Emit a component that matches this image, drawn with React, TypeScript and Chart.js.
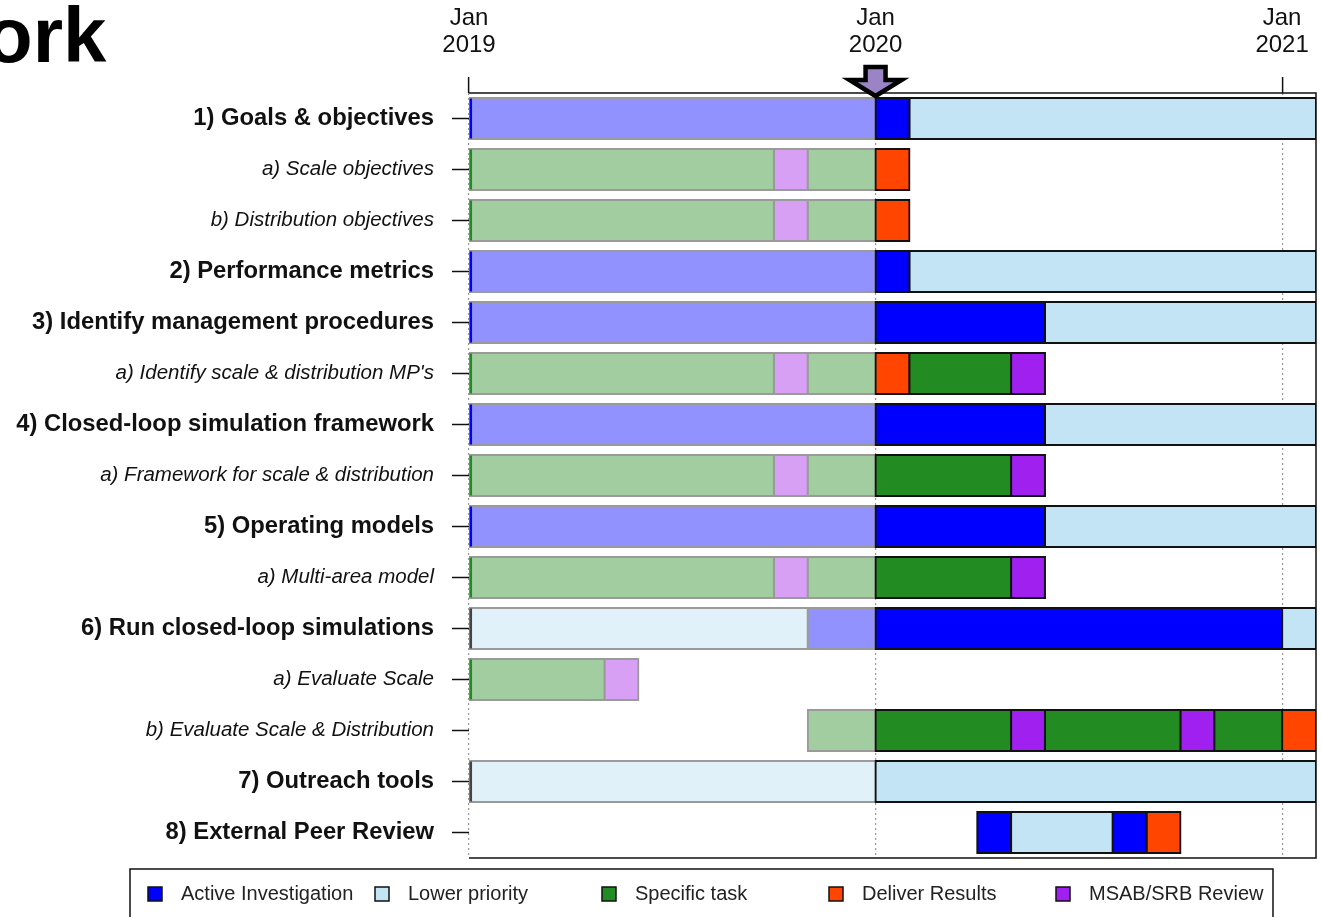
import React, { useEffect, useRef } from "react";
import { Chart, registerables } from "chart.js";

Chart.register(...registerables);

const FONT = "'Liberation Sans', Arial, Helvetica, sans-serif";

// Row labels (top to bottom) and whether the row is a main (bold) item
const rowLabels = [
  "1) Goals & objectives",
  "a) Scale objectives",
  "b) Distribution objectives",
  "2) Performance metrics",
  "3) Identify management procedures",
  "a) Identify scale & distribution MP's",
  "4) Closed-loop simulation framework",
  "a) Framework for scale & distribution",
  "5) Operating models",
  "a) Multi-area model",
  "6) Run closed-loop simulations",
  "a) Evaluate Scale",
  "b) Evaluate Scale & Distribution",
  "7) Outreach tools",
  "8) External Peer Review",
];
const mainRows = [true, false, false, true, true, false, true, false, true, false, true, false, false, true, true];

// Time axis in months since Jan 2019
const tickMonths = [0, 12, 24];
const tickLabels = [["Jan", "2019"], ["Jan", "2020"], ["Jan", "2021"]];
const axisMin = 0;
const axisMax = 25;
const todayMonth = 12;

// Segments: [row, startMonth, endMonth]
const pastActive = [[0, 0, 12], [3, 0, 12], [4, 0, 12], [6, 0, 12], [8, 0, 12], [10, 10, 12]];
const pastTask = [
  [1, 0, 9], [1, 10, 12], [2, 0, 9], [2, 10, 12], [5, 0, 9], [5, 10, 12],
  [7, 0, 9], [7, 10, 12], [9, 0, 9], [9, 10, 12], [11, 0, 4], [12, 10, 12],
];
const pastReview = [[1, 9, 10], [2, 9, 10], [5, 9, 10], [7, 9, 10], [9, 9, 10], [11, 4, 5]];
const pastLower = [[10, 0, 10], [13, 0, 12]];
const activeInvestigation = [
  [0, 12, 13], [3, 12, 13], [4, 12, 17], [6, 12, 17], [8, 12, 17], [10, 12, 24], [14, 15, 16], [14, 19, 20],
];
const lowerPriority = [
  [0, 13, 25], [3, 13, 25], [4, 17, 25], [6, 17, 25], [8, 17, 25], [10, 24, 25], [13, 12, 25], [14, 16, 19],
];
const specificTask = [[5, 13, 16], [7, 12, 16], [9, 12, 16], [12, 12, 16], [12, 17, 21], [12, 22, 24]];
const deliverResults = [[1, 12, 13], [2, 12, 13], [5, 12, 13], [12, 24, 25], [14, 20, 21]];
const msabReview = [[5, 16, 17], [7, 16, 17], [9, 16, 17], [12, 16, 17], [12, 21, 22]];
const startMarkBlue = [0, 3, 4, 6, 8];
const startMarkGreen = [1, 2, 5, 7, 9, 11];
const startMarkGrey = [10, 13];

const legendNames = ["Active Investigation", "Lower priority", "Specific task", "Deliver Results", "MSAB/SRB Review"];
const legendColors = ["#0000ff", "#c2e4f4", "#228b22", "#ff4500", "#a020f0"];

const toData = (segs: number[][]) => segs.map(([r, s, e]) => ({ y: rowLabels[r], x: [s, e] }));
const markData = (rows: number[]) => rows.map((r) => ({ y: rowLabels[r], x: [0, 0.09] }));

export default function App() {
  const ref = useRef<HTMLCanvasElement | null>(null);

  useEffect(() => {
    const canvas = ref.current;
    if (!canvas) return;

    const seg = (label: string, segs: number[][], bg: string, border: string, order: number) => ({
      label,
      data: toData(segs),
      backgroundColor: bg,
      borderColor: border,
      borderWidth: 2,
      borderSkipped: false,
      inflateAmount: 1,
      grouped: false,
      barThickness: 41,
      order,
    });
    const mark = (rows: number[], color: string) => ({
      label: "mark",
      data: markData(rows),
      backgroundColor: color,
      borderWidth: 0,
      inflateAmount: 0,
      grouped: false,
      barThickness: 40,
      order: 0,
    });

    const overlay = {
      id: "overlay",
      afterDraw(chart: any) {
        const ctx = chart.ctx;
        const ca = chart.chartArea;
        const xs = chart.scales.x;
        ctx.save();
        // plot box (top, right, bottom)
        ctx.strokeStyle = "#111";
        ctx.lineWidth = 1.5;
        ctx.beginPath();
        ctx.moveTo(ca.left, ca.top);
        ctx.lineTo(ca.right, ca.top);
        ctx.lineTo(ca.right, ca.bottom);
        ctx.lineTo(ca.left, ca.bottom);
        ctx.stroke();

        // "today" arrow
        const ax = xs.getPixelForValue(todayMonth);
        const top = ca.top - 26;
        ctx.beginPath();
        ctx.moveTo(ax - 10, top);
        ctx.lineTo(ax + 10, top);
        ctx.lineTo(ax + 10, top + 13);
        ctx.lineTo(ax + 26, top + 13);
        ctx.lineTo(ax, ca.top + 3);
        ctx.lineTo(ax - 26, top + 13);
        ctx.lineTo(ax - 10, top + 13);
        ctx.closePath();
        ctx.fillStyle = "#9a84c6";
        ctx.fill();
        ctx.lineWidth = 4.5;
        ctx.lineJoin = "miter";
        ctx.strokeStyle = "#000";
        ctx.stroke();

        // clipped title
        ctx.fillStyle = "#000";
        ctx.font = `bold 78px ${FONT}`;
        ctx.textAlign = "left";
        ctx.textBaseline = "alphabetic";
        ctx.fillText("ork", -15, 62);

        // legend
        ctx.lineWidth = 1.5;
        ctx.strokeStyle = "#111";
        ctx.strokeRect(130, 869, 1143, 60);
        ctx.font = `20px ${FONT}`;
        ctx.textBaseline = "middle";
        legendNames.forEach((name, i) => {
          const x = 148 + i * 227;
          ctx.fillStyle = legendColors[i];
          ctx.fillRect(x, 887, 14, 14);
          ctx.lineWidth = 1.5;
          ctx.strokeStyle = "#111";
          ctx.strokeRect(x, 887, 14, 14);
          ctx.fillStyle = "#222";
          ctx.fillText(name, x + 33, 894);
        });
        ctx.restore();
      },
    };

    const chart = new Chart(canvas, {
      type: "bar",
      data: {
        labels: rowLabels,
        datasets: [
          mark(startMarkBlue, "#0000ff"),
          mark(startMarkGreen, "#228b22"),
          mark(startMarkGrey, "#444444"),
          seg("pastActive", pastActive, "#9292ff", "#9a9a9a", 2),
          seg("pastTask", pastTask, "#a2cda0", "#9a9a9a", 2),
          seg("pastReview", pastReview, "#d8a0f4", "#9a9a9a", 2),
          seg("pastLower", pastLower, "#e1f1f9", "#9a9a9a", 2),
          seg("Active Investigation", activeInvestigation, "#0000ff", "#111111", 1),
          seg("Lower priority", lowerPriority, "#c2e4f4", "#111111", 1),
          seg("Specific task", specificTask, "#228b22", "#111111", 1),
          seg("Deliver Results", deliverResults, "#ff4500", "#111111", 1),
          seg("MSAB/SRB Review", msabReview, "#a020f0", "#111111", 1),
        ] as any,
      },
      options: {
        indexAxis: "y",
        responsive: false,
        animation: false,
        devicePixelRatio: 1,
        layout: { padding: { left: 0, right: 5, top: 0, bottom: 59 } },
        plugins: { legend: { display: false }, tooltip: { enabled: false } },
        scales: {
          x: {
            type: "linear",
            position: "top",
            min: axisMin,
            max: axisMax,
            afterBuildTicks: (s: any) => {
              s.ticks = tickMonths.map((v) => ({ value: v }));
            },
            afterFit: (s: any) => {
              s.height = 93;
              s.paddingLeft = 0;
              s.paddingRight = 0;
            },
            ticks: {
              autoSkip: false,
              maxRotation: 0,
              padding: 18,
              color: "#111",
              font: { family: FONT, size: 24, lineHeight: 1.12 },
              callback: (v: any) => {
                const i = tickMonths.indexOf(Number(v));
                return i >= 0 ? tickLabels[i] : "";
              },
            },
            grid: {
              color: "#999",
              lineWidth: 1.2,
              drawTicks: true,
              tickLength: 16,
              tickColor: "#111",
              tickWidth: 1.5,
              tickBorderDash: [],
            },
            border: { display: false, dash: [2, 3] },
          },
          y: {
            type: "category",
            position: "left",
            offset: true,
            afterFit: (s: any) => {
              s.width = 469;
              s.paddingTop = 0;
              s.paddingBottom = 0;
            },
            ticks: {
              autoSkip: false,
              padding: 18,
              color: "#111",
              font: (c: any) =>
                mainRows[c.index]
                  ? { family: FONT, size: 23.8, weight: "bold" }
                  : { family: FONT, size: 20.5, style: "italic" },
            },
            grid: {
              drawOnChartArea: false,
              offset: false,
              drawTicks: true,
              tickLength: 17,
              tickColor: "#111",
              tickWidth: 1.5,
            },
            border: { display: false },
          },
        },
      } as any,
      plugins: [overlay],
    });
    return () => chart.destroy();
  }, []);

  return (
    <div style={{ position: "fixed", left: 0, top: 0, width: 1321, height: 917, background: "#fff" }}>
      <canvas ref={ref} width={1321} height={917} style={{ width: 1321, height: 917, display: "block" }} />
    </div>
  );
}
